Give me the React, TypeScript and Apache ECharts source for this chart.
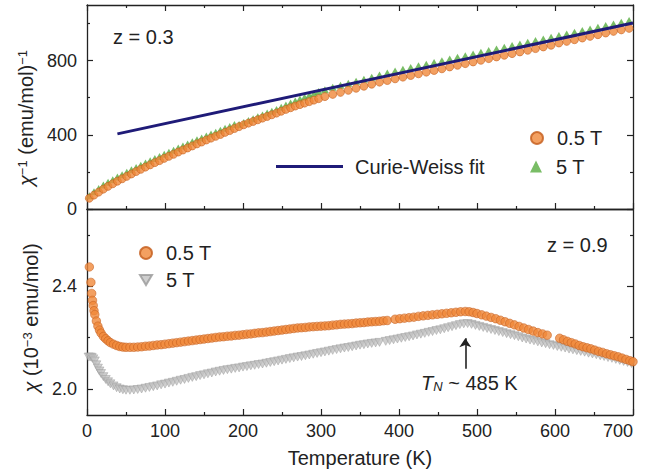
import React, { useEffect, useRef } from "react";
import * as echarts from "echarts";

const FONT = "'Liberation Sans', Arial, Helvetica, sans-serif";
const INK = "#222";

// ---------- Top panel (z = 0.3): inverse susceptibility ----------
const T_TOP = [3, 9, 15, 21, 27, 33, 39, 45, 51, 57, 63, 69, 75, 81, 87, 93, 99, 105, 111, 117,
  123, 129, 135, 141, 147, 153, 159, 165, 171, 177, 183, 189, 195, 201, 207, 213, 219, 225, 231, 237,
  243, 249, 255, 261, 267, 273, 279, 285, 291, 297,
  305, 315, 325, 335, 345, 355, 365, 375, 385, 395, 405, 415, 425, 435, 445, 455, 465, 475, 485, 495,
  505, 515, 525, 535, 545, 555, 565, 575, 585, 595, 605, 615, 625, 635, 645, 655, 665, 675, 685, 695];
const INV_05T = [58, 75, 91, 107, 122, 136, 150, 163, 176, 189, 202, 214, 226, 238, 250, 261, 273, 284, 295, 307,
  318, 329, 340, 351, 361, 372, 382, 392, 402, 413, 423, 434, 444, 454, 463, 472, 481, 490, 499, 508,
  517, 527, 537, 546, 555, 563, 571, 579, 587, 595,
  606, 618, 629, 640, 651, 662, 673, 684, 693, 702, 711, 720, 729, 738, 747, 756, 766, 775, 784, 793,
  802, 811, 820, 829, 838, 847, 856, 865, 874, 883, 895, 904, 913, 922, 931, 940, 949, 958, 966, 974];
const INV_5T = [72, 93, 111, 129, 144, 158, 172, 185, 198, 211, 224, 236, 248, 260, 272, 283, 295, 306, 317, 329,
  340, 351, 362, 373, 383, 394, 404, 414, 424, 435, 445, 456, 456, 467, 477, 487, 497, 507, 517, 527,
  537, 549, 561, 572, 583, 593, 603, 613, 623, 633,
  643, 656, 667, 678, 689, 700, 711, 722, 733, 744, 754, 763, 772, 781, 790, 799, 809, 818, 827, 836,
  845, 854, 863, 872, 881, 890, 899, 908, 917, 926, 935, 944, 953, 962, 971, 980, 989, 998, 1007, 1016];
const CW_T = [39, 700];
const CW_V = [405, 1003];

// ---------- Bottom panel (z = 0.9): susceptibility ----------
const T_B05 = [3, 5, 6, 7, 8, 9, 10, 12, 14, 16, 18, 21, 24, 27, 30, 34, 38, 42, 46, 50,
  55, 60, 65, 70, 75, 80, 85, 90, 95, 100, 105, 110, 115, 120, 125, 130, 135, 140, 145, 150,
  155, 160, 165, 170, 175, 180, 185, 190, 195, 200, 205, 210, 215, 220, 225, 230, 235, 240, 245, 250,
  255, 260, 265, 270, 275, 280, 285, 290, 295, 300, 305, 310, 315, 320, 325, 330, 335, 340, 345, 350,
  355, 360, 365, 370, 375, 380, 385,
  395, 401, 407, 413, 419, 425, 431, 437, 443, 449, 455, 461, 467, 473, 479, 485,
  490, 495, 500, 506, 512, 518, 524, 530, 536, 542, 548, 554, 560, 566, 572, 578, 584, 590,
  606, 611, 616, 621, 626, 631, 636, 641, 646, 651, 656, 661, 666, 671, 676, 681, 686, 691, 696, 700];
const CHI_05T = [2.475, 2.415, 2.372, 2.345, 2.325, 2.305, 2.29, 2.265, 2.245, 2.23, 2.218, 2.205, 2.196, 2.188, 2.181, 2.175, 2.17, 2.166, 2.164, 2.163,
  2.163, 2.163, 2.164, 2.165, 2.167, 2.168, 2.17, 2.172, 2.173, 2.175, 2.177, 2.179, 2.181, 2.183, 2.185, 2.187, 2.189, 2.191, 2.193, 2.195,
  2.197, 2.199, 2.201, 2.203, 2.204, 2.206, 2.207, 2.209, 2.21, 2.212, 2.214, 2.215, 2.217, 2.219, 2.22, 2.222, 2.224, 2.226, 2.228, 2.23,
  2.232, 2.234, 2.236, 2.238, 2.239, 2.24, 2.242, 2.243, 2.244, 2.245, 2.246, 2.247, 2.249, 2.25, 2.252, 2.253, 2.254, 2.255, 2.257, 2.258,
  2.259, 2.261, 2.262, 2.263, 2.264, 2.266, 2.267,
  2.272, 2.274, 2.276, 2.278, 2.28, 2.283, 2.285, 2.287, 2.289, 2.291, 2.293, 2.295, 2.297, 2.299, 2.301, 2.302,
  2.301, 2.298, 2.294, 2.289, 2.284, 2.279, 2.274, 2.268, 2.262, 2.256, 2.25, 2.244, 2.238, 2.232, 2.226, 2.22, 2.215, 2.21,
  2.198, 2.192, 2.186, 2.181, 2.176, 2.17, 2.165, 2.161, 2.157, 2.152, 2.147, 2.143, 2.138, 2.134, 2.13, 2.126, 2.121, 2.116, 2.111, 2.107];
const T_B5 = [2, 4, 6, 8, 10, 12, 14, 16, 18, 21, 24, 27, 30, 34, 38, 42, 46, 50,
  55, 60, 65, 70, 75, 80, 85, 90, 95, 100, 105, 110, 115, 120, 125, 130, 135, 140, 145, 150,
  155, 160, 165, 170, 175, 180, 185, 190, 195, 200, 205, 210, 215, 220, 225, 230, 235, 240, 245, 250,
  255, 260, 265, 270, 275, 280, 285, 290, 295, 300, 305, 310, 315, 320, 325, 330, 335, 340, 345, 350,
  355, 360, 365, 370, 375,
  383, 388, 393, 398, 403, 408, 413, 418, 423, 428, 433, 438, 443, 448, 453, 458, 463, 468, 473, 478, 483,
  488, 493, 498, 503, 508, 513, 518, 523, 528, 533, 538, 543, 548, 553, 558, 563, 568, 573, 578, 583,
  588, 593, 598, 603, 608, 613, 618, 623, 628, 633, 638, 643, 648, 653, 658, 663, 668, 673, 678, 683,
  688, 693, 698];
const CHI_5T = [2.125, 2.125, 2.124, 2.118, 2.11, 2.095, 2.082, 2.071, 2.061, 2.049, 2.038, 2.029, 2.021, 2.013, 2.006, 2.001, 1.998, 1.996,
  1.996, 1.997, 1.999, 2.001, 2.004, 2.007, 2.01, 2.013, 2.017, 2.02, 2.024, 2.027, 2.031, 2.035, 2.038, 2.042, 2.046, 2.049, 2.053, 2.056,
  2.06, 2.063, 2.067, 2.07, 2.073, 2.076, 2.078, 2.081, 2.083, 2.086, 2.088, 2.091, 2.093, 2.096, 2.098, 2.101, 2.104, 2.107, 2.11, 2.113,
  2.116, 2.119, 2.122, 2.125, 2.127, 2.13, 2.133, 2.136, 2.139, 2.142, 2.145, 2.148, 2.151, 2.154, 2.157, 2.16, 2.162, 2.165, 2.168, 2.171,
  2.173, 2.176, 2.178, 2.18, 2.182,
  2.186, 2.189, 2.192, 2.195, 2.198, 2.201, 2.204, 2.207, 2.211, 2.214, 2.217, 2.221, 2.224, 2.228, 2.231, 2.235, 2.239, 2.243, 2.247, 2.251, 2.254,
  2.255, 2.252, 2.248, 2.244, 2.24, 2.236, 2.232, 2.228, 2.224, 2.22, 2.216, 2.212, 2.208, 2.204, 2.199, 2.195, 2.191, 2.188, 2.184, 2.18,
  2.177, 2.173, 2.17, 2.166, 2.163, 2.16, 2.156, 2.153, 2.15, 2.147, 2.144, 2.14, 2.137, 2.134, 2.13, 2.127, 2.123, 2.12, 2.116, 2.112,
  2.108, 2.104, 2.1];

const TN = 485;
const ARROW_FROM = 2.08;
const ARROW_TO = 2.198;

// axis ticks / labels
const X_RANGE = [0, 700];
const TOP_Y_RANGE = [0, 1100];
const TOP_Y_LABELS = [0, 400, 800];
const TOP_Y_MINOR = [200, 600, 1000];
const BOT_Y_RANGE = [1.9, 2.7];
const BOT_Y_LABELS = [2.0, 2.4];
const BOT_Y_MINOR = [2.2, 2.6];

const LEGEND_TEXT: Record<string, string> = {
  top05: "0.5 T",
  top5: "5 T",
  cw: "Curie-Weiss fit",
  bot05: "0.5 T",
  bot5: "5 T",
};

const zip = (a: number[], b: number[]) => a.map((x, i) => [x, b[i]]);

const ORANGE = "#f0883a";
const ORANGE_EDGE = "#c45d1c";
const GREEN = "#58ad40";
const GRAY = "#c2c2c2";
const GRAY_EDGE = "#999999";
const NAVY = "#1f1b78";

const lineStyle = { color: INK, width: 1.3 };
const tickStyle = { color: INK, width: 1.2 };
const TXT = 20;

function xAxis(grid: number, position: string, labels: boolean, ticks: boolean, name?: string) {
  return {
    type: "value",
    gridIndex: grid,
    position,
    min: X_RANGE[0],
    max: X_RANGE[1],
    interval: 100,
    name,
    nameLocation: "middle",
    nameGap: 33,
    nameTextStyle: { fontFamily: FONT, fontSize: TXT, color: INK },
    axisLine: { show: true, onZero: false, lineStyle },
    axisTick: { show: ticks, inside: true, length: 6, lineStyle: tickStyle },
    minorTick: { show: ticks, splitNumber: 2, length: 3, lineStyle: tickStyle },
    splitLine: { show: false },
    minorSplitLine: { show: false },
    axisLabel: {
      show: labels,
      fontFamily: FONT,
      fontSize: 18,
      color: INK,
      margin: 7,
      alignMaxLabel: "right",
    },
  };
}

function yAxis(
  grid: number,
  position: string,
  range: number[],
  tickValues: number[],
  len: number,
  showLine: boolean,
  labelValues: number[] | null,
  fmt: (v: number) => string,
  name?: string,
  rich?: any,
  namePad?: number
) {
  return {
    type: "value",
    gridIndex: grid,
    position,
    min: range[0],
    max: range[1],
    name,
    nameLocation: "middle",
    nameGap: 45,
    nameTextStyle: { fontFamily: FONT, fontSize: TXT, color: INK, rich, padding: [0, namePad || 0, 0, 0] },
    axisLine: { show: showLine, onZero: false, lineStyle },
    axisTick: { show: true, inside: true, length: len, lineStyle: tickStyle, customValues: tickValues },
    splitLine: { show: false },
    axisLabel: labelValues
      ? { show: true, customValues: labelValues, formatter: fmt, fontFamily: FONT, fontSize: 18, color: INK, margin: 10 }
      : { show: false },
  };
}

const nameRich = {
  i: { fontFamily: FONT, fontSize: TXT, fontStyle: "italic", color: INK },
  sup: { fontFamily: FONT, fontSize: 13, color: INK, verticalAlign: "top" },
  n: { fontFamily: FONT, fontSize: TXT, color: INK },
};

export default function App() {
  const ref = useRef<HTMLDivElement>(null);
  useEffect(() => {
    if (!ref.current) return;
    const chart = echarts.init(ref.current, undefined, { renderer: "svg" });
    const intFmt = (v: number) => String(Math.round(v));
    const decFmt = (v: number) => v.toFixed(1);

    const legendText = { fontFamily: FONT, fontSize: TXT, color: INK, lineHeight: 20, padding: [0, 0, 0, 9] };
    const legendBase = {
      orient: "horizontal",
      padding: 0,
      itemGap: 0,
      selectedMode: false,
      itemWidth: 12,
      itemHeight: 12,
      formatter: (n: string) => LEGEND_TEXT[n],
      textStyle: legendText,
    };

    const option: any = {
      animation: false,
      backgroundColor: "#fff",
      grid: [
        { left: 87, top: 5, width: 546, height: 204, outerBoundsMode: "none" },
        { left: 87, top: 209, width: 546, height: 206, outerBoundsMode: "none" },
      ],
      xAxis: [
        xAxis(0, "bottom", false, true),
        xAxis(0, "top", false, true),
        xAxis(1, "bottom", true, true, "Temperature (K)"),
        xAxis(1, "top", false, false),
      ],
      yAxis: [
        yAxis(0, "left", TOP_Y_RANGE, TOP_Y_LABELS, 6, true, TOP_Y_LABELS, intFmt,
          "{i|χ}{sup|−1}{n| (emu/mol)}{sup|−1}", nameRich, 22),
        yAxis(0, "left", TOP_Y_RANGE, TOP_Y_MINOR, 3, false, null, intFmt),
        yAxis(0, "right", TOP_Y_RANGE, TOP_Y_LABELS, 6, true, null, intFmt),
        yAxis(0, "right", TOP_Y_RANGE, TOP_Y_MINOR, 3, false, null, intFmt),
        yAxis(1, "left", BOT_Y_RANGE, BOT_Y_LABELS, 6, true, BOT_Y_LABELS, decFmt,
          "{i|χ}{n| (10}{sup|−3}{n| emu/mol)}", nameRich, 12),
        yAxis(1, "left", BOT_Y_RANGE, BOT_Y_MINOR, 3, false, null, decFmt),
        yAxis(1, "right", BOT_Y_RANGE, BOT_Y_LABELS, 6, true, null, decFmt),
        yAxis(1, "right", BOT_Y_RANGE, BOT_Y_MINOR, 3, false, null, decFmt),
      ],
      legend: [
        { ...legendBase, data: ["top05"], left: 530, top: 128 },
        { ...legendBase, data: [{ name: "top5", icon: "triangle" }], left: 530, top: 156.5 },
        {
          ...legendBase,
          data: [{ name: "cw", icon: "rect" }],
          left: 276,
          top: 156.5,
          itemWidth: 67,
          itemHeight: 3,
          textStyle: { ...legendText, padding: [0, 0, 0, 7] },
        },
        { ...legendBase, data: ["bot05"], left: 139, top: 243 },
        {
          ...legendBase,
          data: [{ name: "bot5", icon: "path://M0,0L12,0L6,10Z" }],
          left: 139,
          top: 270,
          itemHeight: 10,
        },
      ],
      series: [
        {
          type: "scatter",
          name: "top5",
          xAxisIndex: 0,
          yAxisIndex: 0,
          data: zip(T_TOP, INV_5T),
          symbol: "triangle",
          symbolSize: [8, 7],
          itemStyle: { color: GREEN },
          emphasis: { disabled: true },
          z: 2,
        },
        {
          type: "scatter",
          name: "top05",
          xAxisIndex: 0,
          yAxisIndex: 0,
          data: zip(T_TOP, INV_05T),
          symbol: "circle",
          symbolSize: 8,
          itemStyle: { color: ORANGE, borderColor: ORANGE_EDGE, borderWidth: 0.7 },
          emphasis: { disabled: true },
          z: 3,
        },
        {
          type: "line",
          name: "cw",
          xAxisIndex: 0,
          yAxisIndex: 0,
          data: zip(CW_T, CW_V),
          symbol: "none",
          showSymbol: false,
          lineStyle: { color: NAVY, width: 3 },
          itemStyle: { color: NAVY },
          emphasis: { disabled: true },
          z: 4,
        },
        {
          type: "scatter",
          name: "bot5",
          xAxisIndex: 2,
          yAxisIndex: 4,
          data: zip(T_B5, CHI_5T),
          symbol: "triangle",
          symbolRotate: 180,
          symbolSize: [9, 8],
          itemStyle: { color: GRAY, borderColor: GRAY_EDGE, borderWidth: 0.6 },
          emphasis: { disabled: true },
          z: 2,
          markLine: {
            silent: true,
            symbol: ["none", "arrow"],
            symbolSize: 9,
            lineStyle: { color: INK, width: 1.6, type: "solid" },
            label: { show: false },
            emphasis: { disabled: true },
            data: [[{ coord: [TN, ARROW_FROM] }, { coord: [TN, ARROW_TO] }]],
          },
        },
        {
          type: "scatter",
          name: "bot05",
          xAxisIndex: 2,
          yAxisIndex: 4,
          data: zip(T_B05, CHI_05T),
          symbol: "circle",
          symbolSize: 8.5,
          itemStyle: { color: ORANGE, borderColor: ORANGE_EDGE, borderWidth: 0.7 },
          emphasis: { disabled: true },
          z: 3,
        },
      ],
      graphic: [
        {
          type: "text",
          x: 113,
          y: 37,
          style: { text: "z = 0.3", fontFamily: FONT, fontSize: TXT, fill: INK, verticalAlign: "middle" },
        },
        {
          type: "text",
          x: 547,
          y: 245,
          style: { text: "z = 0.9", fontFamily: FONT, fontSize: TXT, fill: INK, verticalAlign: "middle" },
        },
        {
          type: "text",
          x: 421,
          y: 383,
          style: {
            text: "{i|T}{s|N}{n| ~ 485 K}",
            fontFamily: FONT,
            fontSize: TXT,
            fill: INK,
            verticalAlign: "middle",
            rich: {
              i: { fontFamily: FONT, fontSize: TXT, fontStyle: "italic", fill: INK },
              s: { fontFamily: FONT, fontSize: 13, fontStyle: "italic", fill: INK, verticalAlign: "bottom", padding: [6, 0, 0, 0] },
              n: { fontFamily: FONT, fontSize: TXT, fill: INK },
            },
          },
        },
      ],
    };
    chart.setOption(option);
    return () => chart.dispose();
  }, []);
  return (
    <div
      ref={ref}
      style={{ position: "absolute", left: 0, top: 0, width: 648, height: 475, background: "#fff" }}
    />
  );
}
